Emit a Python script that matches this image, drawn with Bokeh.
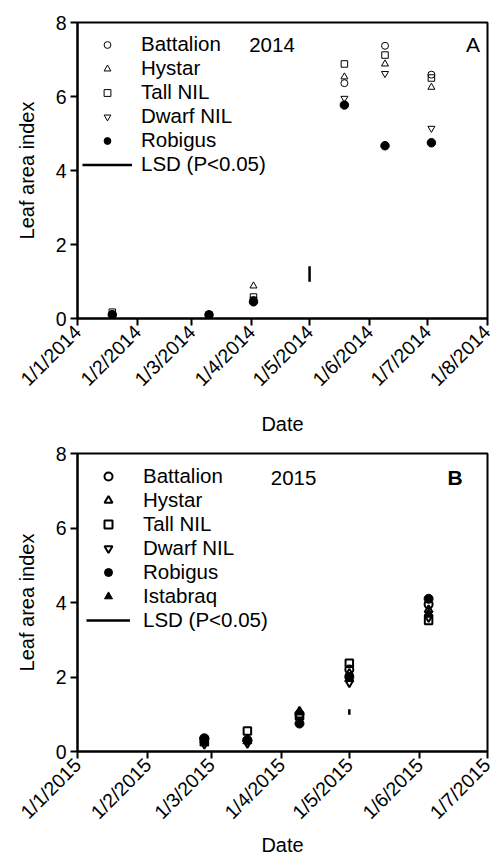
import math
import pandas as pd
from bokeh.plotting import figure
from bokeh.layouts import column
from bokeh.models import (FixedTicker, CustomJSTickFormatter, Range1d, Legend,
                          LegendItem, Label, ColumnDataSource)
from bokeh.embed import file_html
from bokeh.resources import INLINE

FONT = "Liberation Sans"

# ---------------- 2014 (panel A) ----------------
dates_2014 = ["2014-01-19", "2014-03-10", "2014-04-02", "2014-05-19", "2014-06-09", "2014-07-03"]
battalion_2014 = [0.12, 0.10, 0.50, 6.36, 7.37, 6.59]
hystar_2014 = [0.12, 0.10, 0.88, 6.53, 6.88, 6.25]
tall_nil_2014 = [0.17, 0.10, 0.58, 6.88, 7.12, 6.50]
dwarf_nil_2014 = [0.12, 0.10, 0.52, 5.95, 6.62, 5.14]
robigus_2014 = [0.10, 0.10, 0.45, 5.77, 4.67, 4.75]
lsd_date_2014 = ["2014-05-01"]
lsd_mid_2014 = [1.20]
lsd_2014 = [0.42]
ticks_2014 = ["2014-01-01", "2014-02-01", "2014-03-01", "2014-04-01",
              "2014-05-01", "2014-06-01", "2014-07-01", "2014-08-01"]

# ---------------- 2015 (panel B) ----------------
dates_2015 = ["2015-02-26", "2015-03-17", "2015-04-09", "2015-05-01", "2015-06-05"]
battalion_2015 = [0.35, 0.30, 1.00, 2.20, 3.95]
hystar_2015 = [0.30, 0.32, 1.08, 2.10, 3.80]
tall_nil_2015 = [0.28, 0.55, 0.95, 2.37, 3.52]
dwarf_nil_2015 = [0.20, 0.22, 0.85, 1.85, 3.60]
robigus_2015 = [0.35, 0.30, 0.75, 2.00, 4.10]
istabraq_2015 = [0.22, 0.28, 1.05, 1.95, 3.70]
lsd_date_2015 = ["2015-05-01"]
lsd_mid_2015 = [1.06]
lsd_2015 = [0.15]
ticks_2015 = ["2015-01-01", "2015-02-01", "2015-03-01", "2015-04-01",
              "2015-05-01", "2015-06-01", "2015-07-01"]

y_ticks = [0, 2, 4, 6, 8]


def to_ms(lst):
    return [float(v) for v in (pd.to_datetime(lst).astype("int64") // 10**6)]


def make_fig(height, ticks, b_top, b_bottom, b_left, b_right, date_standoff):
    tms = to_ms(ticks)
    p = figure(width=494, height=height, x_axis_type="datetime",
               x_range=Range1d(tms[0], tms[-1]), y_range=Range1d(0, 8),
               output_backend="svg", toolbar_location=None,
               min_border_top=b_top, min_border_bottom=b_bottom,
               min_border_left=b_left, min_border_right=b_right,
               background_fill_color="white", border_fill_color="white")
    p.xgrid.visible = False
    p.ygrid.visible = False
    p.outline_line_color = "black"
    p.outline_line_width = 2
    p.outline_line_alpha = 1
    p.xaxis.ticker = FixedTicker(ticks=tms, minor_ticks=[])
    p.yaxis.ticker = FixedTicker(ticks=y_ticks, minor_ticks=[])
    p.xaxis.formatter = CustomJSTickFormatter(code="""
        const d = new Date(tick);
        return d.getUTCDate() + "/" + (d.getUTCMonth() + 1) + "/" + d.getUTCFullYear();
    """)
    for ax in (p.xaxis[0], p.yaxis[0]):
        ax.axis_line_width = 2
        ax.axis_line_color = "black"
        ax.major_tick_line_width = 2
        ax.major_tick_line_color = "black"
        ax.major_tick_out = 7
        ax.major_tick_in = 0
        ax.minor_tick_out = 0
        ax.minor_tick_in = 0
        ax.major_label_text_font = FONT
        ax.major_label_text_font_size = "19.5px"
        ax.major_label_text_color = "black"
        ax.axis_label_text_font = FONT
        ax.axis_label_text_font_size = "20px"
        ax.axis_label_text_font_style = "normal"
        ax.axis_label_text_color = "black"
    p.yaxis.axis_label = "Leaf area index"
    p.yaxis.major_label_standoff = 4
    p.yaxis.axis_label_standoff = 15
    p.xaxis.axis_label = "Date"
    p.xaxis.major_label_orientation = math.pi / 4
    p.xaxis.major_label_standoff = 3
    p.xaxis.axis_label_standoff = date_standoff
    return p


def add_series(p, dates, values, marker, size, lw, fill):
    src = ColumnDataSource(dict(x=pd.to_datetime(dates), y=values))
    return p.scatter("x", "y", source=src, marker=marker, size=size,
                     line_color="black", line_width=lw,
                     fill_color=fill)


def add_lsd(p, dates, mids, lsds, lw):
    y0 = [m - l / 2 for m, l in zip(mids, lsds)]
    y1 = [m + l / 2 for m, l in zip(mids, lsds)]
    src = ColumnDataSource(dict(x=pd.to_datetime(dates), y0=y0, y1=y1))
    return p.segment(x0="x", y0="y0", x1="x", y1="y1", source=src,
                     line_color="black", line_width=lw)


# ---- Panel A ----
p1 = make_fig(437, ticks_2014, 22, 119, 73, 7, 12)
rA = [
    ("Battalion", add_series(p1, dates_2014, battalion_2014, "circle", 7, 1, None)),
    ("Hystar", add_series(p1, dates_2014, hystar_2014, "triangle", 7, 1, None)),
    ("Tall NIL", add_series(p1, dates_2014, tall_nil_2014, "square", 6.5, 1, None)),
    ("Dwarf NIL", add_series(p1, dates_2014, dwarf_nil_2014, "inverted_triangle", 7, 1, None)),
    ("Robigus", add_series(p1, dates_2014, robigus_2014, "circle", 8.5, 1, "black")),
    ("LSD (P<0.05)", add_lsd(p1, lsd_date_2014, lsd_mid_2014, lsd_2014, 2.5)),
]
legA = Legend(items=[LegendItem(label=n, renderers=[r]) for n, r in rA],
              location=(5, 142), margin=0, padding=0, spacing=0,
              glyph_width=50, glyph_height=17, label_height=23, label_standoff=9,
              label_text_font=FONT, label_text_font_size="20.5px",
              label_text_color="black",
              background_fill_alpha=0, border_line_alpha=0)
p1.add_layout(legA)
p1.add_layout(Label(x=171.7, y=274, x_units="screen", y_units="screen", text="2014",
                    text_font=FONT, text_font_size="20.5px", text_baseline="middle",
                    text_color="black"))
p1.add_layout(Label(x=388.4, y=274, x_units="screen", y_units="screen", text="A",
                    text_font=FONT, text_font_size="21px", text_baseline="middle",
                    text_color="black"))

# ---- Panel B ----
p2 = make_fig(422, ticks_2015, 16, 108, 77, 4, 0)
rB = [
    ("Battalion", add_series(p2, dates_2015, battalion_2015, "circle", 8, 2, None)),
    ("Hystar", add_series(p2, dates_2015, hystar_2015, "triangle", 8, 2, None)),
    ("Tall NIL", add_series(p2, dates_2015, tall_nil_2015, "square", 7.5, 2, None)),
    ("Dwarf NIL", add_series(p2, dates_2015, dwarf_nil_2015, "inverted_triangle", 8, 2, None)),
    ("Robigus", add_series(p2, dates_2015, robigus_2015, "circle", 9, 1, "black")),
    ("Istabraq", add_series(p2, dates_2015, istabraq_2015, "triangle", 9, 1, "black")),
    ("LSD (P<0.05)", add_lsd(p2, lsd_date_2015, lsd_mid_2015, lsd_2015, 2.5)),
]
legB = Legend(items=[LegendItem(label=n, renderers=[r]) for n, r in rB],
              location=(9, 119), margin=0, padding=0, spacing=0,
              glyph_width=44, glyph_height=20, label_height=23, label_standoff=13,
              label_text_font=FONT, label_text_font_size="20.5px",
              label_text_color="black",
              background_fill_alpha=0, border_line_alpha=0)
p2.add_layout(legB)
p2.add_layout(Label(x=193.3, y=274, x_units="screen", y_units="screen", text="2015",
                    text_font=FONT, text_font_size="20.5px", text_baseline="middle",
                    text_color="black"))
p2.add_layout(Label(x=370, y=274, x_units="screen", y_units="screen", text="B",
                    text_font=FONT, text_font_size="21px", text_font_style="bold",
                    text_baseline="middle", text_color="black"))

layout = column(p1, p2, spacing=0)
open("out.html", "w").write(file_html(layout, INLINE))
